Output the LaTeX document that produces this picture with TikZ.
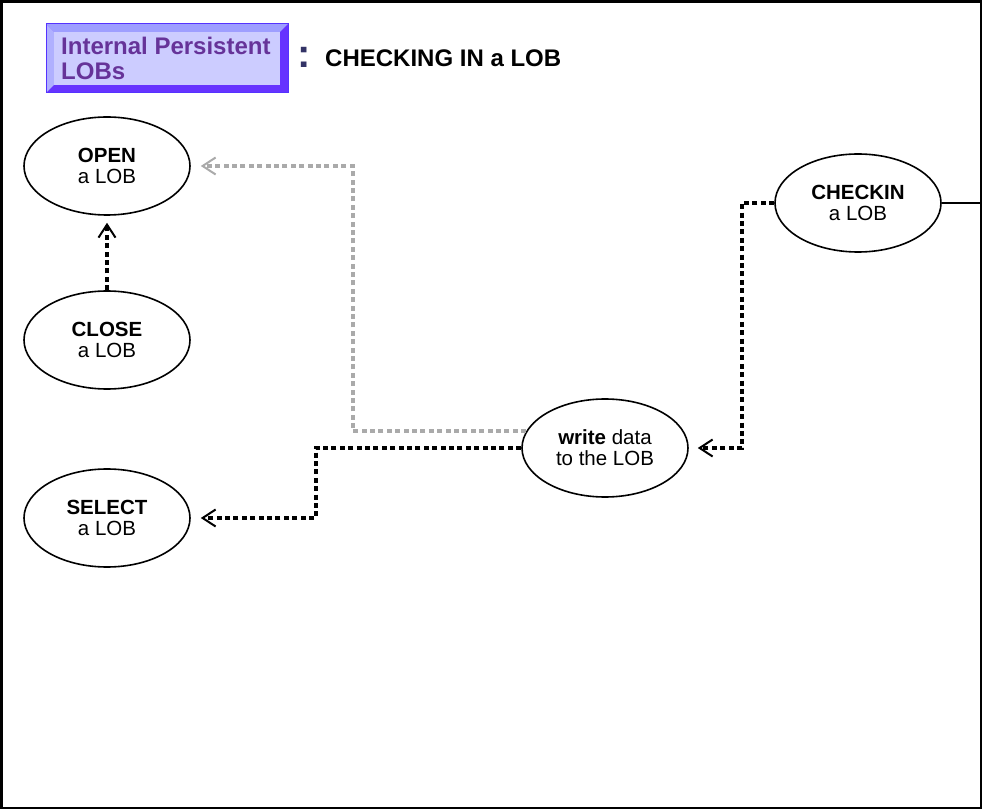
\documentclass[tikz,border=0pt]{standalone}
\usepackage{fontspec}
\setmainfont{Liberation Sans}
\usetikzlibrary{arrows.meta,shapes.geometric,calc}
\definecolor{bevdark}{HTML}{6633FF}
\definecolor{bevtop}{HTML}{9E9EFF}
\definecolor{bevleft}{HTML}{B0B0FF}
\definecolor{bevface}{HTML}{CCCCFF}
\definecolor{bevborder}{HTML}{5533FF}
\definecolor{titlepurple}{HTML}{663399}
\definecolor{colonnavy}{HTML}{333366}
\definecolor{linkgray}{HTML}{AAAAAA}
\begin{document}
\begin{tikzpicture}[x=1pt,y=-1pt,
  lob/.style={ellipse, draw, line width=1.6pt, fill=white, minimum width=166pt, minimum height=98pt,
    inner sep=0pt, align=center, font=\fontsize{20.5}{21}\selectfont},
  tiparrow/.style={-{Straight Barb[length=13pt,width=17pt,line width=2pt]}},
  blackdash/.style={tiparrow, line width=3.6pt, dash pattern=on 5pt off 3.4pt, black},
  graydash/.style={tiparrow, line width=3.6pt, dash pattern=on 5pt off 3.4pt, linkgray}]
\useasboundingbox (0,0) rectangle (983,810);
\draw[line width=2.5pt] (1.5,1.5) rectangle (981,808);
\coordinate (fr) at (981,0);
% title box (bevelled)
\fill[bevdark] (46,24) rectangle (288,93);
\fill[bevtop] (46,24) -- (288,24) -- (280,32) -- (54,32) -- cycle;
\fill[bevleft] (46,24) -- (54,32) -- (54,85) -- (46,93) -- cycle;
\fill[bevface] (54,32) rectangle (280,85);
\draw[bevborder, line width=1pt] (46,24) rectangle (288,93);
\node[anchor=west, inner sep=0pt, align=left, text=titlepurple,
  font=\fontsize{24}{25}\selectfont\bfseries] (tt) at (61,58.5) {Internal Persistent\\LOBs};
\node[anchor=base west, inner sep=0pt, text=colonnavy, font=\fontsize{40}{40}\selectfont\bfseries] (colon) at (297,68) {:};
\node[anchor=base west, inner sep=0pt, font=\fontsize{24}{24}\selectfont\bfseries] (head) at (325,67) {CHECKING IN a LOB};
% nodes
\node[lob] (open) at (107,166) {\textbf{OPEN}\\a LOB};
\node[lob] (close) at (107,340) {\textbf{CLOSE}\\a LOB};
\node[lob] (select) at (107,518) {\textbf{SELECT}\\a LOB};
\node[lob] (write) at (605,448) {\textbf{write} data\\to the LOB};
\node[lob] (checkin) at (858,203) {\textbf{CHECKIN}\\a LOB};
% connectors
\draw[blackdash, shorten >=7pt] (close.north) -- (open.south);
\draw[graydash, shorten >=10pt] (write.168) -| ([xshift=162pt]open.east) -- (open.east);
\draw[blackdash, shorten >=10pt] (write.west) -| ([xshift=125pt]select.east) -- (select.east);
\draw[blackdash, shorten >=9pt] (checkin.west) -| ([xshift=53pt]write.east) -- (write.east);
\draw[line width=1.2pt] (checkin.east) -- (checkin.east -| fr);
\end{tikzpicture}
\end{document}
